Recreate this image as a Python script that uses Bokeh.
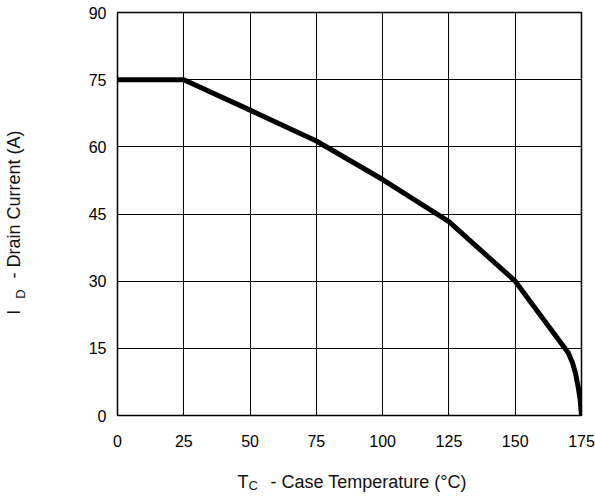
import math
from bokeh.plotting import figure
from bokeh.models import FixedTicker, Range1d, Label
from bokeh.embed import file_html
from bokeh.resources import INLINE

temp_c = [0, 25, 50, 75, 100, 125, 150, 170, 171.6, 172.8, 173.8, 174.5, 175]
drain_a = [75, 75, 68.2, 61.3, 52.7, 43.3, 30, 14, 11.8, 9.3, 6.2, 3.5, 0]
x_ticks = [0, 25, 50, 75, 100, 125, 150, 175]
y_ticks = [0, 15, 30, 45, 60, 75, 90]

FONT = "Liberation Sans"

p = figure(width=595, height=497, output_backend="svg", toolbar_location=None,
           x_range=Range1d(0, 175), y_range=Range1d(0, 90),
           min_border_left=117, min_border_right=14, min_border_top=12, min_border_bottom=82)

p.line(temp_c, drain_a, line_color="black", line_width=5, line_join="round")

for ax, ticks in ((p.xaxis, x_ticks), (p.yaxis, y_ticks)):
    ax.ticker = FixedTicker(ticks=ticks)
    ax.axis_line_color = None
    ax.major_tick_line_color = None
    ax.minor_tick_line_color = None
    ax.major_tick_out = 0
    ax.major_tick_in = 0
    ax.major_label_text_font = FONT
    ax.major_label_text_font_size = "16px"
    ax.major_label_text_color = "black"
p.xaxis.major_label_standoff = 19
p.yaxis.major_label_standoff = 11

p.xgrid.grid_line_color = "black"
p.ygrid.grid_line_color = "black"
p.xgrid.grid_line_alpha = 1
p.ygrid.grid_line_alpha = 1
p.outline_line_color = "black"
p.outline_line_width = 1.5
p.outline_line_alpha = 1

TXT = "#111111"

# x axis title: main text in the below panel, T and subscript C in the roomy left panel
p.add_layout(Label(x=45.3, y=-14.8, text="T", text_color=TXT,
                   text_font=FONT, text_font_size="18px", text_baseline="alphabetic", text_align="left"), "left")
p.add_layout(Label(x=49.4, y=-15.7, text="C", text_color=TXT,
                   text_font=FONT, text_font_size="13px", text_baseline="alphabetic", text_align="left"), "left")
p.add_layout(Label(x=57.7, y=-14.8, text="- Case Temperature (°C)", text_color=TXT,
                   text_font=FONT, text_font_size="18px", text_baseline="alphabetic", text_align="left"), "below")

# y axis title (in the left panel)
p.add_layout(Label(x=-39.1, y=22.5, text="I", angle=math.pi / 2, text_color=TXT,
                   text_font=FONT, text_font_size="18px", text_baseline="alphabetic", text_align="left"), "left")
p.add_layout(Label(x=-36.6, y=26.1, text="D", angle=math.pi / 2, text_color=TXT,
                   text_font=FONT, text_font_size="13px", text_baseline="alphabetic", text_align="left"), "left")
p.add_layout(Label(x=-39.1, y=30.6, text="- Drain Current (A)", angle=math.pi / 2, text_color=TXT,
                   text_font=FONT, text_font_size="18px", text_baseline="alphabetic", text_align="left"), "left")

open("out.html", "w").write(file_html(p, INLINE))
